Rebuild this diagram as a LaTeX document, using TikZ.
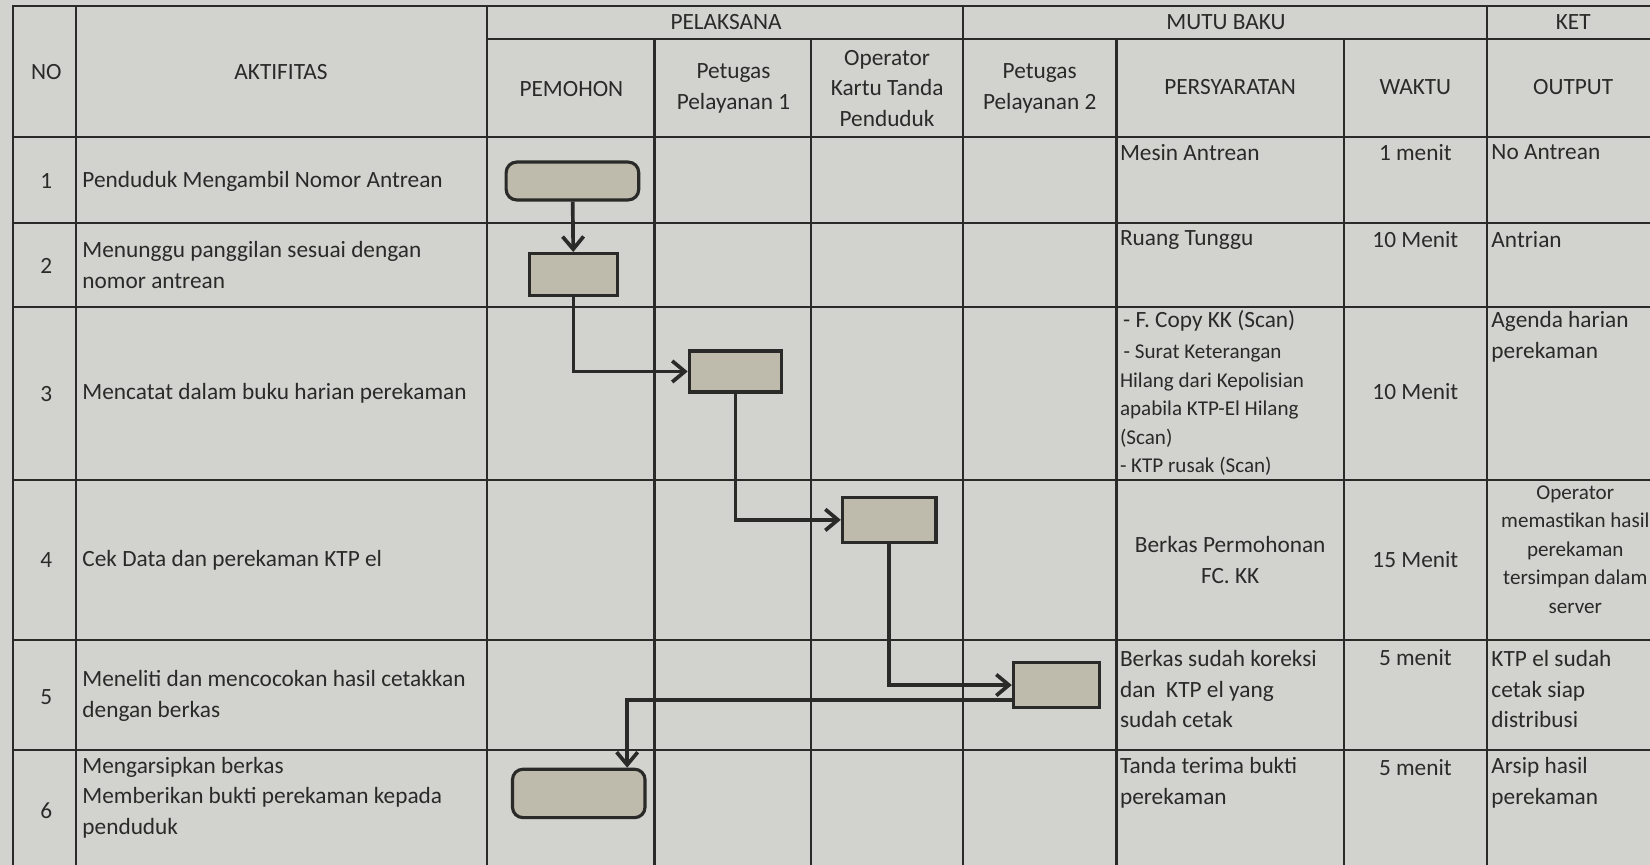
\documentclass[tikz,border=0pt]{standalone}
\usepackage{fontspec}
\setmainfont{Carlito}
\usetikzlibrary{arrows.meta,calc}
\definecolor{kertas}{RGB}{210,210,206}
\definecolor{kotak}{RGB}{190,186,172}
\definecolor{tinta}{RGB}{42,42,40}
\newcommand\biasa{\fontsize{12.6}{16.6}\selectfont}
\newcommand\kecil{\fontsize{11.4}{15.4}\selectfont}
\tikzset{
	kiri/.style={anchor=west,align=left},
	kecil/.style={font=\kecil},
	proses/.style 2 args={draw=tinta,line width=1.7pt,fill=kotak,minimum width=#1,minimum height=#2},
	alur/.style={draw=tinta,line width=2pt,->},
}
\begin{document}
\begin{tikzpicture}[x=.2mm,y=-.2mm,>={Straight Barb[length=2.4mm,width=4mm]},
	every node/.style={text=tinta,inner sep=0pt,font=\biasa,align=center}]
	\useasboundingbox[fill=kertas] (0,0) rectangle (1568,822);
	% garis tabel
	\draw[tinta,line width=1.2pt]
	(12,6) rectangle (1577,840)
	(463,37)--(1577,37)
	(12,130)--(1577,130)
	(12,212)--(1577,212)
	(12,292)--(1577,292)
	(12,456)--(1577,456)
	(12,608)--(1577,608)
	(12,713)--(1577,713)
	(72,6)--(72,840)
	(463,6)--(463,840)
	(622,37)--(622,840)
	(771,37)--(771,840)
	(915,6)--(915,840)
	(1061,37)--(1061,840)
	(1277,37)--(1277,840)
	(1413,6)--(1413,840)
	;
	\path
	(44,68) node(no){NO} % <<< judul
	(267,68) node(akt){AKTIFITAS}
	(690,21) node(pel){PELAKSANA}
	(1165,21) node(mutu){MUTU BAKU}
	(1495,21) node(ket){KET}
	(543,85) node(pem){PEMOHON}
	(697,84) node(pp1){Petugas\\Pelayanan 1}
	(843,84) node(ktp){Operator\\Kartu Tanda\\Penduduk}
	(988,84) node(pp2){Petugas\\Pelayanan 2}
	(1169,83) node(syarat){PERSYARATAN}
	(1345,83) node(waktu){WAKTU}
	(1495,83) node(output){OUTPUT}
	;
	\path
	(44,172) node(n1){1} % <<< aktifitas
	(44,253) node(n2){2}
	(44,374) node(n3){3}
	(44,532) node(n4){4}
	(44,662) node(n5){5}
	(44,770) node(n6){6}
	(78,172) node[kiri](a1){Penduduk Mengambil Nomor Antrean}
	(78,252) node[kiri](a2){Menunggu panggilan sesuai dengan\\nomor antrean}
	(78,374) node[kiri](a3){Mencatat dalam buku harian perekaman}
	(78,532) node[kiri](a4){Cek Data dan perekaman KTP el}
	(78,661) node[kiri](a5){Meneliti dan mencocokan hasil cetakkan\\dengan berkas}
	(78,758) node[kiri](a6){Mengarsipkan berkas\\Memberikan bukti perekaman kepada\\penduduk}
	;
	\path
	(1064,145) node[kiri](s1){Mesin Antrean} % <<< mutu baku
	(1064,228) node[kiri](s2){Ruang Tunggu}
	(1067,305) node[kiri](s3){- F. Copy KK (Scan)}
	(1064,390) node[kiri,kecil](s3b){\hspace*{2pt}- Surat Keterangan\\Hilang dari Kepolisian\\apabila KTP-El Hilang\\(Scan)\\- KTP rusak (Scan)}
	(1169,532) node(s4){Berkas Permohonan\\FC. KK}
	(1064,655) node[kiri](s5){Berkas sudah koreksi\\dan\ \ KTP el yang\\sudah cetak}
	(1064,744) node[kiri](s6){Tanda terima bukti\\perekaman}
	(1345,145) node(w1){1 menit}
	(1345,228) node(w2){10 Menit}
	(1345,372) node(w3){10 Menit}
	(1345,532) node(w4){15 Menit}
	(1345,625) node(w5){5 menit}
	(1345,729) node(w6){5 menit}
	(1417,145) node[kiri](o1){No Antrean}
	(1417,228) node[kiri](o2){Antrian}
	(1417,320) node[kiri](o3){Agenda harian\\perekaman}
	(1497,522) node[kecil](o4){Operator\\memastikan hasil\\perekaman\\tersimpan dalam\\server}
	(1417,655) node[kiri](o5){KTP el sudah\\cetak siap\\distribusi}
	(1417,744) node[kiri](o6){Arsip hasil\\perekaman}
	;
	\path
	(544,172) node[proses={25.2mm}{7.2mm},rounded corners=2mm](b1){}
	(545,261) node[proses={16.6mm}{8mm}](b2){}
	(699,353) node[proses={17.6mm}{7.8mm}](b3){}
	(845,494) node[proses={17.8mm}{8.6mm}](b4){}
	(1004,651) node[proses={16.4mm}{8.6mm}](b5){}
	(550,754) node[proses={25.2mm}{9.2mm},rounded corners=2mm](b6){}
	;
	\draw[alur] (b1)--(b2);
	\draw[alur] (b2)|-(b3);
	\draw[alur] (b3)|-(b4);
	\draw[alur] (b4)|-(b5);
	\draw[alur] ($(b5.west)+(0,14)$)-|($(b6.north)+(46,0)$);
\end{tikzpicture}
\end{document}
